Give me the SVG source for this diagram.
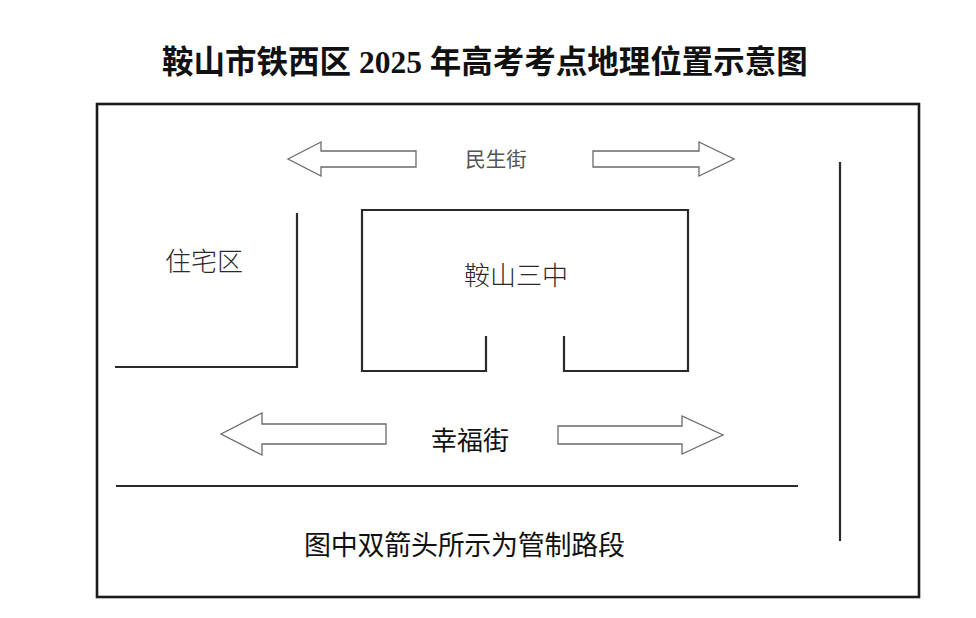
<svg xmlns="http://www.w3.org/2000/svg" width="976" height="618" viewBox="0 0 976 618">
<style>
.line{fill:none;stroke:#2a2a2a;stroke-width:2.2;stroke-linecap:butt}
.frame{fill:none;stroke:#1a1a1a;stroke-width:2.6}
.arrow{fill:#fff;stroke:#6a6a6a;stroke-width:1.3;stroke-linejoin:miter}
.sans{font-family:"Noto Sans CJK SC","Noto Sans",sans-serif;text-anchor:middle}
.title{font-family:"Liberation Serif","Noto Sans CJK SC",serif;font-weight:bold;font-size:31.5px;text-anchor:middle;fill:#111}
</style>
<rect width="976" height="618" fill="#fff"/>
<text class="title" x="485" y="73">鞍山市铁西区 2025 年高考考点地理位置示意图</text>
<rect class="frame" x="97" y="104" width="822" height="493"/>
<g id="residential">
<path class="line" d="M297,213 V367 H115"/>
<text class="sans" x="204" y="271" font-size="26" font-weight="300" fill="#2a2a2a">住宅区</text>
</g>
<g id="school">
<path class="line" d="M486,336 V371 H362 V210 H688 V371 H564 V336"/>
<text class="sans" x="516" y="285" font-size="26" font-weight="300" fill="#2a2a2a">鞍山三中</text>
</g>
<g id="minsheng-street">
<text class="sans" x="496" y="167" font-size="20.5" fill="#555">民生街</text>
</g>
<g id="xingfu-street">
<text class="sans" x="470" y="450" font-size="26" fill="#111">幸福街</text>
</g>
<g id="note">
<text class="sans" x="304" y="555" font-size="27" fill="#111" style="text-anchor:start" textLength="321" lengthAdjust="spacing">图中双箭头所示为管制路段</text>
</g>
<g id="connectors">
<polygon class="arrow" points="288,159 321,142 321,151 416,151 416,167 321,167 321,176"/>
<polygon class="arrow" points="593,151 699,151 699,142 734,159 699,176 699,167 593,167"/>
<polygon class="arrow" points="221,434 262,413 262,424 386,424 386,444 262,444 262,455"/>
<polygon class="arrow" points="558,426 682,426 682,416 723,435 682,454 682,444 558,444"/>
<path class="line" d="M116,486 H798"/>
<path class="line" d="M840,162 V541"/>
</g>
</svg>
